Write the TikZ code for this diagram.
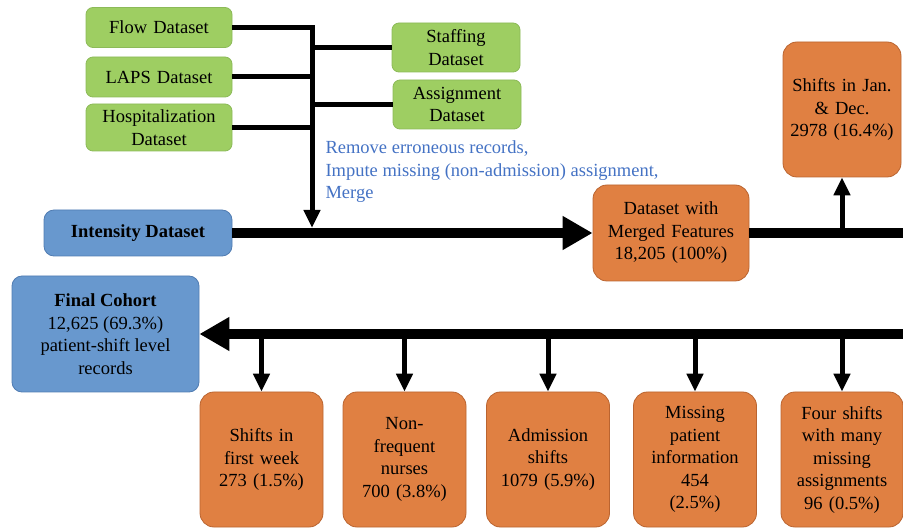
\documentclass[tikz,border=0pt]{standalone}
\usepackage{fontspec}
\setmainfont{Liberation Serif}
\usepackage{tikz}
\usetikzlibrary{arrows.meta, positioning}
\definecolor{dsgreen}{RGB}{158,206,98}
\definecolor{dsgreenline}{RGB}{140,186,88}
\definecolor{dsblue}{RGB}{104,152,206}
\definecolor{dsblueline}{RGB}{80,124,178}
\definecolor{dsorange}{RGB}{224,128,66}
\definecolor{dsorangeline}{RGB}{186,100,48}
\definecolor{steptext}{RGB}{68,114,196}
\tikzstyle{greenbox} = [rectangle, rounded corners=7pt, minimum width=146pt, minimum height=40pt, text width=140pt, align=center, draw=dsgreenline, fill=dsgreen, line width=0.8pt, inner sep=0pt]
\tikzstyle{bluebox} = [rectangle, rounded corners=10pt, align=center, draw=dsblueline, fill=dsblue, line width=0.8pt, inner sep=0pt]
\tikzstyle{orangebox} = [rectangle, rounded corners=14pt, minimum width=123pt, minimum height=135pt, text width=118pt, align=center, draw=dsorangeline, fill=dsorange, line width=0.8pt, inner sep=0pt]
\tikzstyle{thinline} = [line width=5pt]
\tikzstyle{thinarrow} = [line width=5pt, -{Triangle[length=18pt,width=16pt]}]
\tikzstyle{thickline} = [line width=10pt]
\tikzstyle{thickarrow} = [line width=10pt, -{Triangle[length=30pt,width=32pt]}]

\begin{document}
\begin{tikzpicture}[x=1pt, y=-1pt, font=\fontsize{18.5}{22.5}\selectfont]
			
			\useasboundingbox (0,0) rectangle (903,529);
			
			% source datasets
			\node (flow) [greenbox] at (159,27.5) {Flow Dataset};
			\node (laps) [greenbox] at (159,77) {LAPS Dataset};
			\node (hosp) [greenbox, minimum height=47pt] at (159,127.5) {Hospitalization\\Dataset};
			\node (staff) [greenbox, minimum width=128pt, text width=122pt, minimum height=49pt] at (456,47.5) {Staffing\\Dataset};
			\node (assign) [greenbox, minimum width=128pt, text width=122pt, minimum height=49pt] at (457,104.5) {Assignment\\Dataset};
			
			\node (intensity) [bluebox, minimum width=188pt, minimum height=46pt] at (138,233) {\textbf{Intensity Dataset}};
			
			\node (steps) [anchor=west, align=left, text=steptext] at (322,172) {Remove erroneous records,\\Impute missing (non-admission) assignment,\\Merge};
			
			\node (merged) [orangebox, minimum width=156pt, text width=150pt, minimum height=96pt] at (671,233) {Dataset with\\Merged Features\\18,205 (100\%)};
			
			\node (jan) [orangebox, minimum width=118pt, text width=112pt] at (842,109.5) {Shifts in Jan.\\\& Dec.\\2978 (16.4\%)};
			
			\node (final) [bluebox, minimum width=187pt, minimum height=116pt] at (105.5,334) {\textbf{Final Cohort}\\12,625 (69.3\%)\\patient-shift level\\records};
			
			% excluded records
			\node (week) [orangebox] at (261.5,459.5) {Shifts in\\first week\\273 (1.5\%)};
			\node (nonfreq) [orangebox] at (404.5,459.5) {Non-\\frequent\\nurses\\700 (3.8\%)};
			\node (admission) [orangebox] at (548,459.5) {Admission\\shifts\\1079 (5.9\%)};
			\node (missing) [orangebox] at (695,459.5) {Missing\\patient\\information\\454\\(2.5\%)};
			\node (four) [orangebox, minimum width=122pt] at (842,459.5) {Four shifts\\with many\\missing\\assignments\\96 (0.5\%)};
			
			\coordinate (bustip) at (312,228);
			\coordinate (rightA) at (903,233);
			\coordinate (rightB) at (903,334);
			
			\draw [thinarrow] (flow.east) -| (bustip);
			\draw [thinline] (laps.east) -- (laps.east -| bustip);
			\draw [thinline] (hosp.east) -- (hosp.east -| bustip);
			\draw [thinline] (staff.west) -- (staff.west -| bustip);
			\draw [thinline] (assign.west) -- (assign.west -| bustip);
			
			\draw [thickarrow] (intensity.east) -- (merged.west);
			\draw [thickline] (merged.east) -- (rightA);
			\draw [thinarrow] (jan.south |- rightA) -- (jan.south);
			
			\draw [thickarrow] (rightB) -- (final.east);
			\draw [thinarrow] (week.north |- rightB) -- (week.north);
			\draw [thinarrow] (nonfreq.north |- rightB) -- (nonfreq.north);
			\draw [thinarrow] (admission.north |- rightB) -- (admission.north);
			\draw [thinarrow] (missing.north |- rightB) -- (missing.north);
			\draw [thinarrow] (four.north |- rightB) -- (four.north);
			
		\end{tikzpicture}
\end{document}
